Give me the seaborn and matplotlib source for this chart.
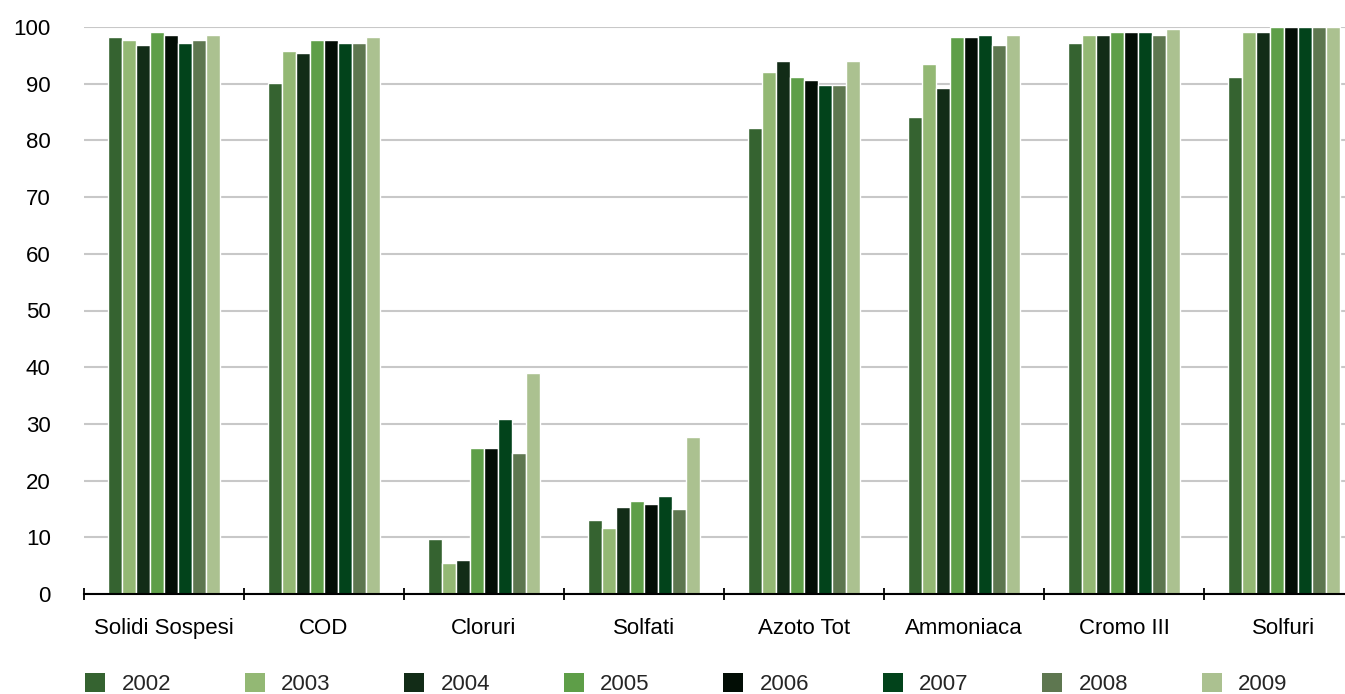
import matplotlib
matplotlib.use('Agg')
import matplotlib.pyplot as plt
import numpy as np
import pandas as pd
import seaborn as sns
from matplotlib.patches import Patch

categories = ['Solidi Sospesi', 'COD', 'Cloruri', 'Solfati', 'Azoto Tot', 'Ammoniaca', 'Cromo III', 'Solfuri']
years = ['2002', '2003', '2004', '2005', '2006', '2007', '2008', '2009']
colors = ['#356330', '#93b874', '#122c17', '#5e9e48', '#020d05', '#02431b', '#5e7750', '#abc190']

# values per year, one entry per category
v2002 = [98.2, 90.1, 9.7, 13.1, 82.2, 84.1, 97.2, 91.2]
v2003 = [97.7, 95.8, 5.5, 11.6, 92.1, 93.5, 98.6, 99.1]
v2004 = [96.8, 95.4, 6.0, 15.3, 94.0, 89.2, 98.6, 99.1]
v2005 = [99.1, 97.7, 25.7, 16.4, 91.2, 98.2, 99.1, 100.0]
v2006 = [98.6, 97.7, 25.7, 15.9, 90.7, 98.2, 99.1, 100.0]
v2007 = [97.2, 97.2, 30.9, 17.3, 89.8, 98.6, 99.1, 100.0]
v2008 = [97.7, 97.2, 24.9, 15.0, 89.8, 96.8, 98.6, 100.0]
v2009 = [98.6, 98.2, 39.0, 27.7, 94.0, 98.6, 99.6, 100.0]
yticks = [0, 10, 20, 30, 40, 50, 60, 70, 80, 90, 100]

sns.set_theme(style='white')
plt.rcParams['font.family'] = ['Liberation Sans', 'DejaVu Sans']


def main() -> None:
    """Builds the grouped bar chart and saves it."""
    series = [v2002, v2003, v2004, v2005, v2006, v2007, v2008, v2009]
    rows = []
    for year, values in zip(years, series):
        for cat, val in zip(categories, values):
            rows.append({'categoria': cat, 'anno': year, 'valore': val})
    data = pd.DataFrame(rows)

    fig = plt.figure(figsize=(13.45, 6.94), dpi=100)
    # axes run past the right edge: the last category is cut like in the original
    ax = fig.add_axes([84 / 1345, 1 - 594 / 694, 1280 / 1345, 567 / 694])
    sns.barplot(
        data=data, x='categoria', y='valore', hue='anno',
        order=categories, hue_order=years, palette=colors, saturation=1,
        width=0.7, edgecolor='white', linewidth=1.0, ax=ax, legend=False,
    )
    ax.set_xlim(-0.5, len(categories) - 0.5)
    ax.set_ylim(0, 100)
    ax.set_yticks(yticks)
    ax.yaxis.grid(True, color='#c8c8c8', linewidth=1.5)
    ax.set_axisbelow(True)
    ax.set_xlabel('')
    ax.set_ylabel('')
    for side in ['left', 'top', 'right']:
        ax.spines[side].set_visible(False)
    ax.spines['bottom'].set_color('black')
    ax.spines['bottom'].set_linewidth(1.5)

    ax.set_xticks(np.arange(-0.5, len(categories)), minor=True)
    ax.tick_params(axis='x', which='minor', direction='inout', length=9, width=1.3, color='black', bottom=True)
    ax.tick_params(axis='x', which='major', length=0, pad=17.5, labelsize=16, labelcolor='black')
    ax.tick_params(axis='y', length=0, pad=24, labelsize=16, labelcolor='black')

    handles = [Patch(facecolor=c, edgecolor='none') for c in colors]
    fig.legend(
        handles, years, loc='center left', bbox_to_anchor=(85 / 1345, 1 - 684 / 694),
        ncol=8, frameon=False, fontsize=16, handlelength=0.9, handleheight=0.9,
        handletextpad=0.75, columnspacing=3.3, borderpad=0, borderaxespad=0,
    )

    fig.savefig('out.png', dpi=100)


if __name__ == '__main__':
    main()
